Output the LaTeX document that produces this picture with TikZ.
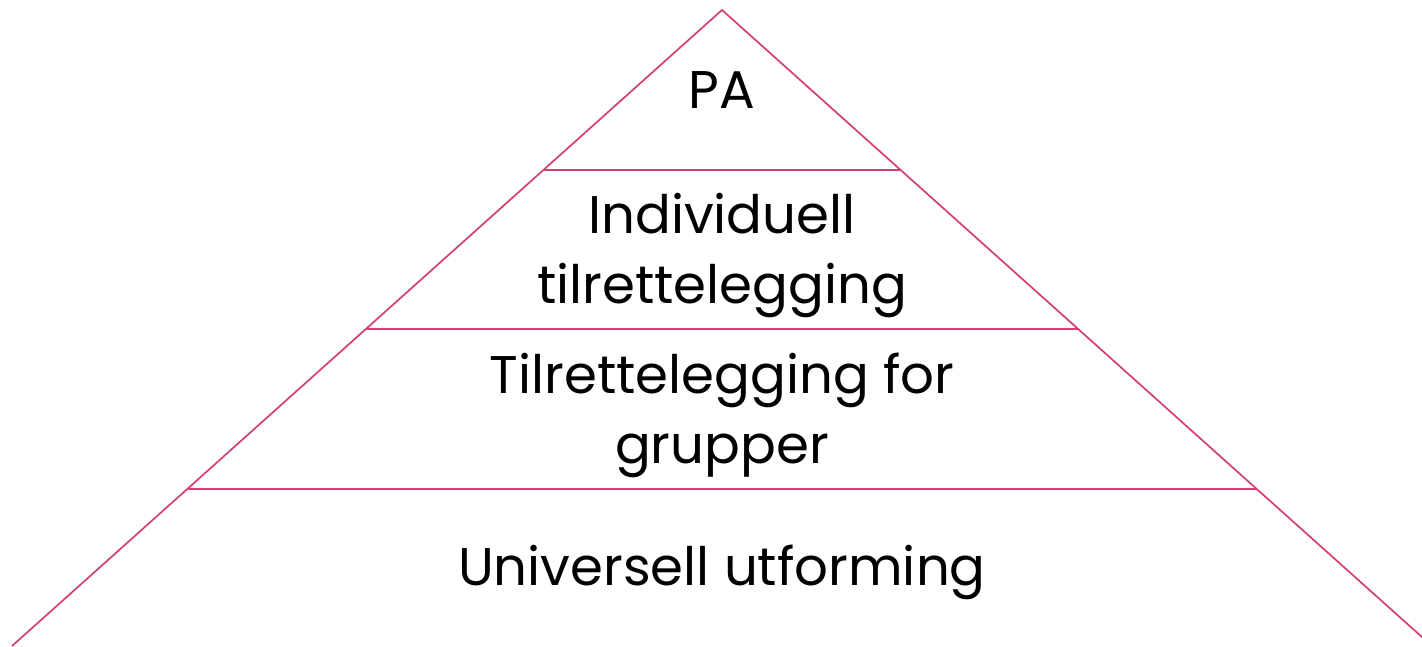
\documentclass[tikz,border=0pt]{standalone}
\usepackage{fontspec}
\setmainfont{Poppins}
\definecolor{pyrline}{RGB}{212,62,118}
\begin{document}
\begin{tikzpicture}[x=1pt,y=-1pt,
  edge/.style={draw=pyrline,line width=1.7pt},
  lbl/.style={font=\fontsize{53}{70}\selectfont,align=center,anchor=base,inner sep=0pt}]
\useasboundingbox (0,0) rectangle (1422,646);
\clip (0,0) rectangle (1422,646);
\coordinate (apex) at (722,10);
\coordinate (bl) at (12,646);
\coordinate (br) at (1432,646);
\coordinate (l1) at (543.5,170);
\coordinate (r1) at (900.5,170);
\coordinate (l2) at (366,329);
\coordinate (r2) at (1078,329);
\coordinate (l3) at (187.5,489);
\coordinate (r3) at (1256.5,489);
\draw[edge,line join=miter] (bl) -- (apex) -- (br);
\draw[edge] (l1) -- (r1);
\draw[edge] (l2) -- (r2);
\draw[edge] (l3) -- (r3);
\node[lbl] (pa) at (722,108) {PA};
\node[lbl] (ind) at (722,303) {Individuell\\tilrettelegging};
\node[lbl] (grp) at (722,463) {Tilrettelegging for\\grupper};
\node[lbl] (uni) at (722,585) {Universell utforming};
\end{tikzpicture}
\end{document}
